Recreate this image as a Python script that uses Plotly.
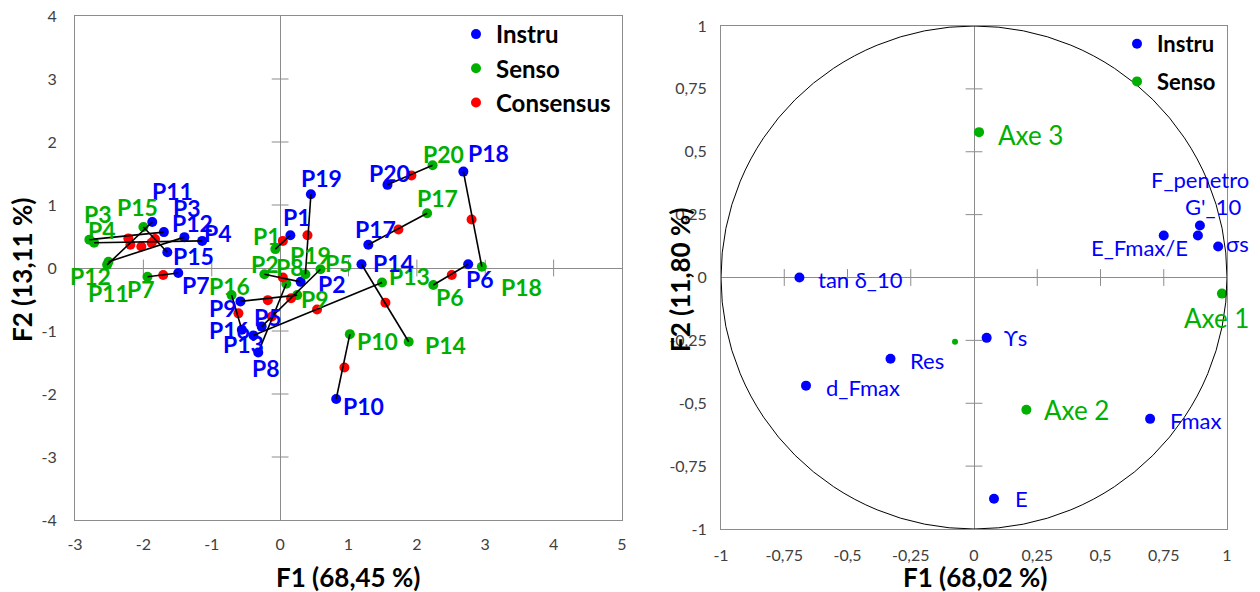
import plotly.graph_objects as go

# ---------------- Left chart data (PCA individuals) ----------------
products = ["P1", "P2", "P3", "P4", "P5", "P6", "P7", "P8", "P9", "P10",
            "P11", "P12", "P13", "P14", "P15", "P16", "P17", "P18", "P19", "P20"]
instru_x = [0.15, 0.30, -1.70, -1.14, -0.27, 2.75, -1.49, -0.32, -0.58, 0.82,
            -1.87, -1.40, -0.39, 1.19, -1.65, -0.56, 1.29, 2.68, 0.45, 1.57]
instru_y = [0.52, -0.22, 0.57, 0.43, -0.93, 0.06, -0.08, -1.34, -0.53, -2.08,
            0.73, 0.49, -1.07, 0.06, 0.25, -0.98, 0.37, 1.53, 1.17, 1.32]
senso_x = [-0.07, -0.23, -2.79, -2.72, 0.59, 2.24, -1.94, 0.09, 0.25, 1.02,
           -2.53, -2.51, 1.49, 1.88, -2.00, -0.71, 2.15, 2.95, 0.37, 2.23]
senso_y = [0.30, -0.10, 0.45, 0.40, -0.02, -0.27, -0.14, -0.25, -0.43, -1.05,
           0.05, 0.10, -0.23, -1.17, 0.65, -0.43, 0.87, 0.02, -0.10, 1.63]
cons_x = [0.04, 0.04, -2.22, -1.88, 0.16, 2.51, -1.71, -0.12, -0.18, 0.94,
          -2.19, -2.03, 0.54, 1.54, -1.83, -0.61, 1.73, 2.80, 0.40, 1.92]
cons_y = [0.43, -0.15, 0.47, 0.40, -0.48, -0.11, -0.11, -0.77, -0.51, -1.58,
          0.37, 0.34, -0.66, -0.55, 0.46, -0.72, 0.61, 0.77, 0.52, 1.47]

left_xticks = [-3, -2, -1, 0, 1, 2, 3, 4, 5]
left_yticks = [-4, -3, -2, -1, 0, 1, 2, 3, 4]

# ---------------- Right chart data (correlation circle) ----------------
var_names = ["tan δ_10", "E_Fmax/E", "F_penetro", "G'_10", "σs",
             "ϒs", "Res", "d_Fmax", "Fmax", "E"]
var_x = [-0.69, 0.75, 0.893, 0.885, 0.965, 0.05, -0.33, -0.664, 0.696, 0.079]
var_y = [0.0, 0.167, 0.207, 0.167, 0.123, -0.24, -0.323, -0.43, -0.562, -0.88]
axe_names = ["Axe 1", "Axe 2", "Axe 3"]
axe_x = [0.98, 0.207, 0.02]
axe_y = [-0.064, -0.526, 0.578]
extra_x = [-0.075]
extra_y = [-0.255]

right_ticks = [-1, -0.75, -0.5, -0.25, 0, 0.25, 0.5, 0.75, 1]
right_ticktext = ["-1", "-0,75", "-0,5", "-0,25", "0", "0,25", "0,5", "0,75", "1"]

# ---------------- Styles ----------------
BLUE = "#0000FF"
GREEN = "#00B000"
RED = "#FF0000"
GRAY = "#8c8c8c"
FONT = "Lato"
W, H = 1260, 592

# label offsets (pixels) for left chart
instru_dx = [7, 31, 23, 16, 6, 12, 18, 8, -17, 27, 20, 8, -10, 32, 26, -12, 7, 25, 11, 2]
instru_dy = [18, -2, 24, 8, 10, -15, -12, -16, -7, -7, 31, 14, -9, 1, -4, 0, 16, 19, 16, 12]
senso_dx = [-8, 1, 9, 8, 19, 17, -6, 4, 18, 28, 1, -18, 27, 37, -6, -2, 10, 40, 5, 11]
senso_dy = [13, 10, 26, 13, 6, -12, -12, 17, -4, -7, -28, -14, 6, -3, 20, 9, 15, -20, 19, 11]

# label placement for right chart: (anchor, dx, dy)
var_lab = [("left", 17, -2), ("center", -24, -12), ("center", 0, 46), ("center", 15, 29),
           ("left", 6, 3), ("left", 15, 0), ("left", 17, -2), ("left", 18, -2),
           ("left", 18, -2), ("left", 19, 0)]
axe_lab = [("center", -5, -24), ("left", 16, 0), ("left", 17, -3)]

fig = go.Figure()

# ---- left chart ----
lx, ly = [], []
for i in range(len(products)):
    lx += [instru_x[i], senso_x[i], None]
    ly += [instru_y[i], senso_y[i], None]

lxt = [t for t in left_xticks if t not in (-3, 0, 5)]
lyt = [t for t in left_yticks if t not in (-4, 0, 4)]
fig.add_trace(go.Scatter(x=lxt, y=[0] * len(lxt), mode="markers", hoverinfo="skip", showlegend=False,
                         marker=dict(symbol="line-ns", size=12, line=dict(width=1, color=GRAY)),
                         xaxis="x", yaxis="y"))
fig.add_trace(go.Scatter(x=[0] * len(lyt), y=lyt, mode="markers", hoverinfo="skip", showlegend=False,
                         marker=dict(symbol="line-ew", size=12, line=dict(width=1, color=GRAY)),
                         xaxis="x", yaxis="y"))

fig.add_trace(go.Scatter(x=instru_x, y=instru_y, mode="markers", name="Instru",
                         marker=dict(color=BLUE, size=10), legend="legend",
                         legendgroup="a", legendrank=1, xaxis="x", yaxis="y"))
fig.add_trace(go.Scatter(x=senso_x, y=senso_y, mode="markers", name="Senso",
                         marker=dict(color=GREEN, size=10), legend="legend",
                         legendgroup="b", legendrank=2, xaxis="x", yaxis="y"))
fig.add_trace(go.Scatter(x=cons_x, y=cons_y, mode="markers", name="Consensus",
                         marker=dict(color=RED, size=10), legend="legend",
                         legendgroup="c", legendrank=3, xaxis="x", yaxis="y"))
fig.add_trace(go.Scatter(x=lx, y=ly, mode="lines", line=dict(color="black", width=1.6),
                         showlegend=False, hoverinfo="skip", xaxis="x", yaxis="y"))

# ---- right chart ----
rt = [t for t in right_ticks if t not in (-1, 0, 1)]
fig.add_trace(go.Scatter(x=rt, y=[0] * len(rt), mode="markers", hoverinfo="skip", showlegend=False,
                         marker=dict(symbol="line-ns", size=12, line=dict(width=1, color=GRAY)),
                         xaxis="x2", yaxis="y2"))
fig.add_trace(go.Scatter(x=[0] * len(rt), y=rt, mode="markers", hoverinfo="skip", showlegend=False,
                         marker=dict(symbol="line-ew", size=12, line=dict(width=1, color=GRAY)),
                         xaxis="x2", yaxis="y2"))
fig.add_trace(go.Scatter(x=var_x, y=var_y, mode="markers", name="Instru",
                         marker=dict(color=BLUE, size=10), legend="legend2",
                         legendgroup="d", legendrank=1, xaxis="x2", yaxis="y2"))
fig.add_trace(go.Scatter(x=axe_x, y=axe_y, mode="markers", name="Senso",
                         marker=dict(color=GREEN, size=10), legend="legend2",
                         legendgroup="e", legendrank=2, xaxis="x2", yaxis="y2"))
fig.add_trace(go.Scatter(x=extra_x, y=extra_y, mode="markers", showlegend=False,
                         marker=dict(color=GREEN, size=6), xaxis="x2", yaxis="y2"))

annotations = []
for i, p in enumerate(products):
    annotations.append(dict(x=instru_x[i], y=instru_y[i], xref="x", yref="y", text=p,
                            showarrow=False, xshift=instru_dx[i], yshift=instru_dy[i],
                            font=dict(family=FONT, size=23, color=BLUE, weight="bold")))
    annotations.append(dict(x=senso_x[i], y=senso_y[i], xref="x", yref="y", text=p,
                            showarrow=False, xshift=senso_dx[i], yshift=senso_dy[i],
                            font=dict(family=FONT, size=23, color=GREEN, weight="bold")))
for i, n in enumerate(var_names):
    anc, dx, dy = var_lab[i]
    annotations.append(dict(x=var_x[i], y=var_y[i], xref="x2", yref="y2", text=n,
                            showarrow=False, xanchor=anc, xshift=dx, yshift=dy,
                            font=dict(family=FONT, size=22, color=BLUE)))
for i, n in enumerate(axe_names):
    anc, dx, dy = axe_lab[i]
    annotations.append(dict(x=axe_x[i], y=axe_y[i], xref="x2", yref="y2", text=n,
                            showarrow=False, xanchor=anc, xshift=dx, yshift=dy,
                            font=dict(family=FONT, size=26, color=GREEN)))

title_font = dict(family=FONT, size=26, color="black", weight="bold")
tcommon = dict(xref="paper", yref="paper", showarrow=False, xanchor="center",
               yanchor="middle", font=title_font)
annotations += [
    dict(x=348 / W, y=1 - 577 / H, text="F1 (68,45 %)", **tcommon),
    dict(x=22 / W, y=1 - 270 / H, text="F2 (13,11 %)", textangle=-90, **tcommon),
    dict(x=975 / W, y=1 - 577 / H, text="F1 (68,02 %)", **tcommon),
    dict(x=680 / W, y=1 - 280 / H, text="F2 (11,80 %)", textangle=-90, **tcommon),
]

tick_font = dict(family=FONT, size=16, color="#404040")
axis_common = dict(showgrid=False, showline=True, mirror=True, linecolor=GRAY, linewidth=1,
                   zeroline=True, zerolinecolor=GRAY, zerolinewidth=1, ticks="",
                   tickfont=tick_font, fixedrange=True, automargin=False)

fig.update_layout(
    width=W, height=H, margin=dict(l=0, r=0, t=0, b=0, autoexpand=False),
    paper_bgcolor="white", plot_bgcolor="white",
    xaxis=dict(domain=[75 / W, 622 / W], range=[-3, 5], tickvals=left_xticks,
               ticktext=[str(t) for t in left_xticks], ticklabelstandoff=10,
               anchor="y", **axis_common),
    yaxis=dict(domain=[1 - 520 / H, 1 - 16 / H], range=[-4, 4], tickvals=left_yticks,
               ticktext=[str(t) for t in left_yticks], ticklabelstandoff=14,
               anchor="x", **axis_common),
    xaxis2=dict(domain=[721 / W, 1227 / W], range=[-1, 1], tickvals=right_ticks,
                ticktext=right_ticktext, ticklabelstandoff=12, anchor="y2", **axis_common),
    yaxis2=dict(domain=[1 - 529 / H, 1 - 26 / H], range=[-1, 1], tickvals=right_ticks,
                ticktext=right_ticktext, ticklabelstandoff=10, anchor="x2", **axis_common),
    legend=dict(x=456 / W, y=1 - 12 / H, xanchor="left", yanchor="top",
                bgcolor="rgba(0,0,0,0)", tracegroupgap=0, itemclick=False,
                font=dict(family=FONT, size=24, color="black", weight="bold")),
    legend2=dict(x=1117 / W, y=1 - 23 / H, xanchor="left", yanchor="top",
                 bgcolor="rgba(0,0,0,0)", tracegroupgap=6, itemclick=False,
                 font=dict(family=FONT, size=22, color="black", weight="bold")),
    annotations=annotations,
    shapes=[dict(type="circle", xref="x2", yref="y2", x0=-1, y0=-1, x1=1, y1=1,
                 line=dict(color="black", width=1))],
    showlegend=True,
)

fig.write_html("out.html", config={"displayModeBar": False},
               post_script="document.body.style.margin='0';document.body.style.overflow='hidden';")
